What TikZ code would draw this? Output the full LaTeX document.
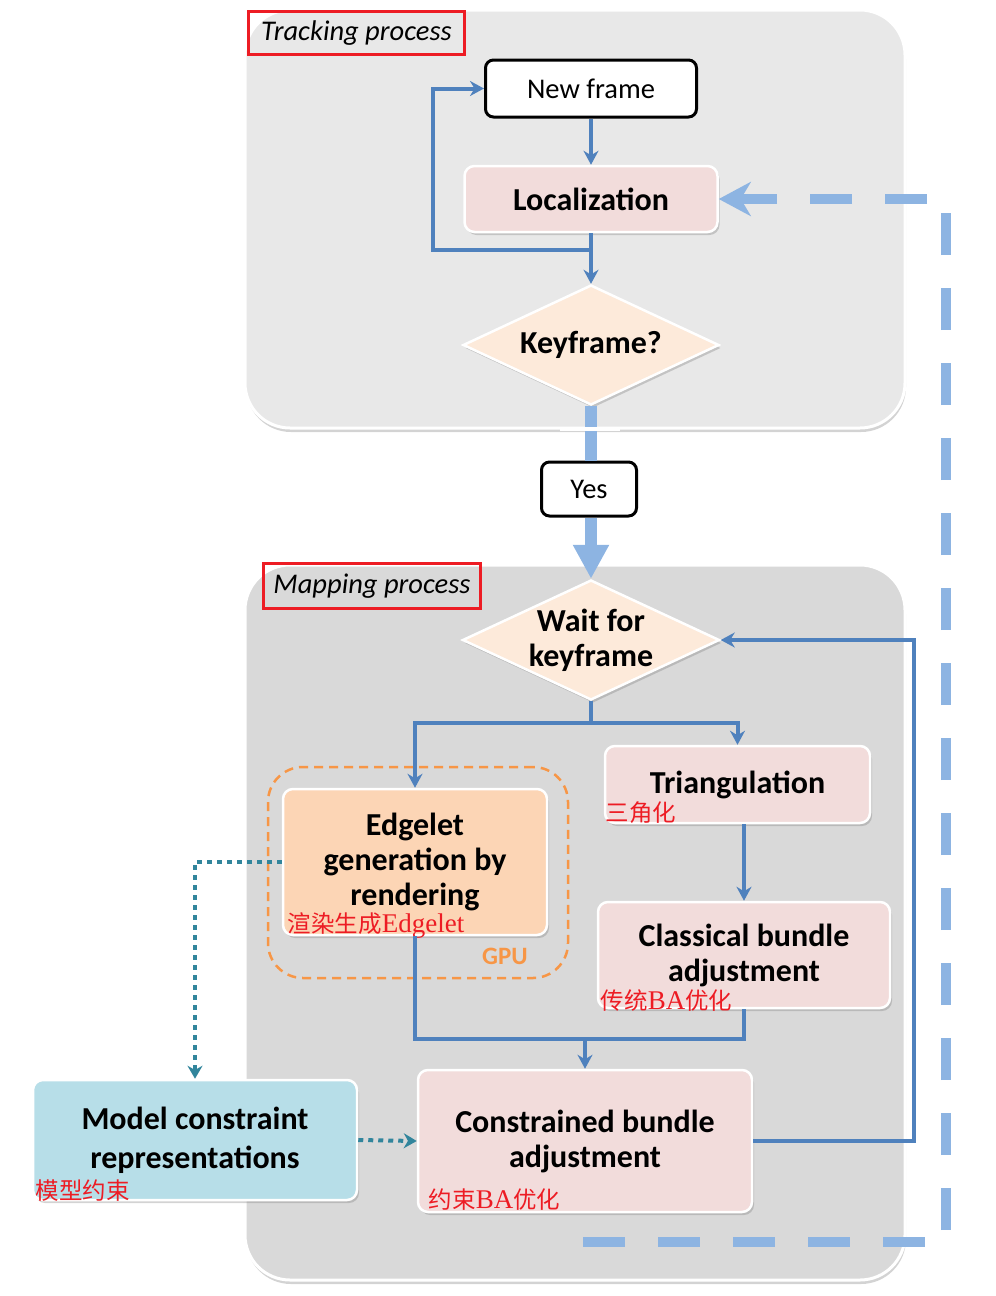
\documentclass[tikz,border=0pt]{standalone}
\usepackage{fontspec}
\setmainfont{Carlito}
\newfontfamily\cjkfont{Noto Sans CJK SC}
\newfontfamily\lserif{Liberation Serif}
\usetikzlibrary{shapes.geometric,arrows.meta,shadows}

\definecolor{panelA}{HTML}{E8E8E8}
\definecolor{panelB}{HTML}{D9D9D9}
\definecolor{boxpink}{HTML}{F2DCDB}
\definecolor{boxpeach}{HTML}{FDEADA}
\definecolor{boxorange}{HTML}{FCD5B5}
\definecolor{boxcyan}{HTML}{B7DEE8}
\definecolor{flowblue}{HTML}{4F81BD}
\definecolor{lightblue}{HTML}{8DB4E2}
\definecolor{gpuorange}{HTML}{F79646}
\definecolor{dotteal}{HTML}{31859C}
\definecolor{tagred}{HTML}{ED1C24}

\newcommand{\latn}[1]{{\lserif\fontsize{27}{30}\selectfont #1}}

\begin{document}
\begin{tikzpicture}[x=1pt, y=-1pt,
    panel/.style={draw=white, line width=3pt, rounded corners=45pt,
        drop shadow={shadow xshift=1pt, shadow yshift=-4pt, opacity=0.35}},
    tag/.style={draw=tagred, line width=3pt, inner sep=0pt,
        font=\fontsize{28.5}{32}\selectfont\itshape},
    stepbox/.style={draw=white, line width=2.5pt, rounded corners=10pt, inner sep=0pt,
        align=center, font=\fontsize{32}{35}\selectfont\bfseries,
        drop shadow={shadow xshift=2pt, shadow yshift=-3pt, opacity=0.35}},
    plainbox/.style={draw=black, line width=3pt, fill=white, rounded corners=8pt,
        inner sep=0pt, font=\fontsize{28.5}{32}\selectfont},
    decision/.style={diamond, aspect=2, draw=white, line width=2.5pt, fill=boxpeach,
        inner sep=-25pt, align=center, font=\fontsize{32}{35}\selectfont\bfseries,
        drop shadow={shadow xshift=2pt, shadow yshift=-3pt, opacity=0.35}},
    gpuframe/.style={draw=gpuorange, line width=2.5pt, dash pattern=on 9pt off 6pt,
        rounded corners=35pt, inner sep=0pt},
    cnnote/.style={anchor=south west, inner sep=0pt, text=tagred,
        font=\fontsize{23.5}{26}\selectfont\cjkfont},
    flow/.style={draw=flowblue, line width=4pt, -{Stealth[length=14pt, width=15pt]}},
    flowline/.style={draw=flowblue, line width=4pt},
    dotflow/.style={draw=dotteal, line width=4pt, dash pattern=on 5pt off 5pt,
        -{Stealth[length=13pt, width=15pt]}},
    yesline/.style={draw=lightblue, line width=12pt},
    bigdash/.style={draw=lightblue, line width=10pt, dash pattern=on 42pt off 33pt,
        -{Stealth[length=32pt, width=34pt, inset=10pt]}}
]
    \useasboundingbox (0,0) rectangle (996,1296);

    % Tracking process
    \draw[panel, fill=panelA] (245,10) rectangle (905,428);
    \node[tag, anchor=north west, minimum width=216pt, minimum height=43pt] (ttag) at (247,10) {Tracking process};

    \node[plainbox, minimum width=211pt, minimum height=57pt] (newf) at (591,88.5) {New frame};
    \node[stepbox, fill=boxpink, minimum width=253pt, minimum height=66pt] (loc) at (591,199) {Localization};
    \node[decision, minimum width=256pt, minimum height=120pt] (kf) at (591,345) {Keyframe?};

    \draw[flow] (newf.south) -- (loc.north);
    \draw[flow] (loc.south) -- (kf.north);
    \draw[flow] (loc.south) -- ++(0,17) -- ++(-158,0) |- (newf.west);

    % Yes
    \node[plainbox, minimum width=95pt, minimum height=54pt] (yes) at (589,489) {Yes};
    \draw[yesline] (kf.south) -- (kf.south |- yes.north);
    \draw[white, line width=4pt] (560,428.5) -- (620,428.5);

    % Mapping process
    \draw[panel, fill=panelB] (245,565) rectangle (905,1280);
    \node[tag, anchor=north west, minimum width=217pt, minimum height=45pt] (mtag) at (262,562) {Mapping process};

    \node[decision, minimum width=257pt, minimum height=120pt] (wait) at (591,640) {Wait for\\keyframe};
    \draw[yesline, -{Triangle[length=34pt, width=34pt]}] (wait.north |- yes.south) -- (wait.north);

    % GPU part
    \node[gpuframe, minimum width=300pt, minimum height=211pt] (gpu) at (418,872.5) {};
    \node[text=gpuorange, font=\fontsize{25}{28}\selectfont\bfseries] (gputxt) at (505,956) {GPU};
    \node[stepbox, fill=boxorange, minimum width=264pt, minimum height=146pt] (edge) at (415,862) {Edgelet\\generation by\\rendering};
    \node[cnnote] (edgecn) at ([xshift=6pt, yshift=-2pt]edge.south west) {渲染生成\latn{Edgelet}};

    % BA steps
    \node[stepbox, fill=boxpink, minimum width=265pt, minimum height=77pt] (tri) at (737.5,784.5) {Triangulation};
    \node[cnnote] (tricn) at ([xshift=2pt]tri.south west) {三角化};

    \node[stepbox, fill=boxpink, minimum width=292pt, minimum height=106pt] (cla) at (744,955) {Classical bundle\\adjustment};
    \node[cnnote] (clacn) at ([xshift=4pt, yshift=-2pt]cla.south west) {传统\latn{BA}优化};

    \node[stepbox, fill=boxpink, minimum width=334pt, minimum height=142pt] (con) at (585,1141) {Constrained bundle\\adjustment};
    \node[cnnote] (concn) at ([xshift=12pt, yshift=3pt]con.south west) {约束\latn{BA}优化};

    \node[stepbox, fill=boxcyan, minimum width=324pt, minimum height=120pt,
        font=\fontsize{32}{39}\selectfont\bfseries] (mod) at (195,1140) {Model constraint\\representations};
    \node[cnnote] (modcn) at ([xshift=4pt, yshift=0pt]mod.south west) {模型约束};

    % Arrows
    \draw[flow] (wait.south) -- ++(0,22) -| (edge.north);
    \draw[flow] (wait.south) -- ++(0,22) -| (tri.north);
    \draw[flow] (cla.north |- tri.south) -- (cla.north);
    \draw[flowline] (edge.south) -- ++(0,103) coordinate (merge) -| (cla.south);
    \draw[flow] (con.north |- merge) -- (con.north);
    \draw[flow] (con.east) -- ++(161,0) |- (wait.east);

    \draw[dotflow] (edge.west) -| (mod.north);
    \draw[dotflow] (mod.east) -- (con.west);

    \coordinate (dstart) at (583,1242);
    \draw[bigdash] (dstart) -- ++(363,0) |- (loc.east);
\end{tikzpicture}
\end{document}
